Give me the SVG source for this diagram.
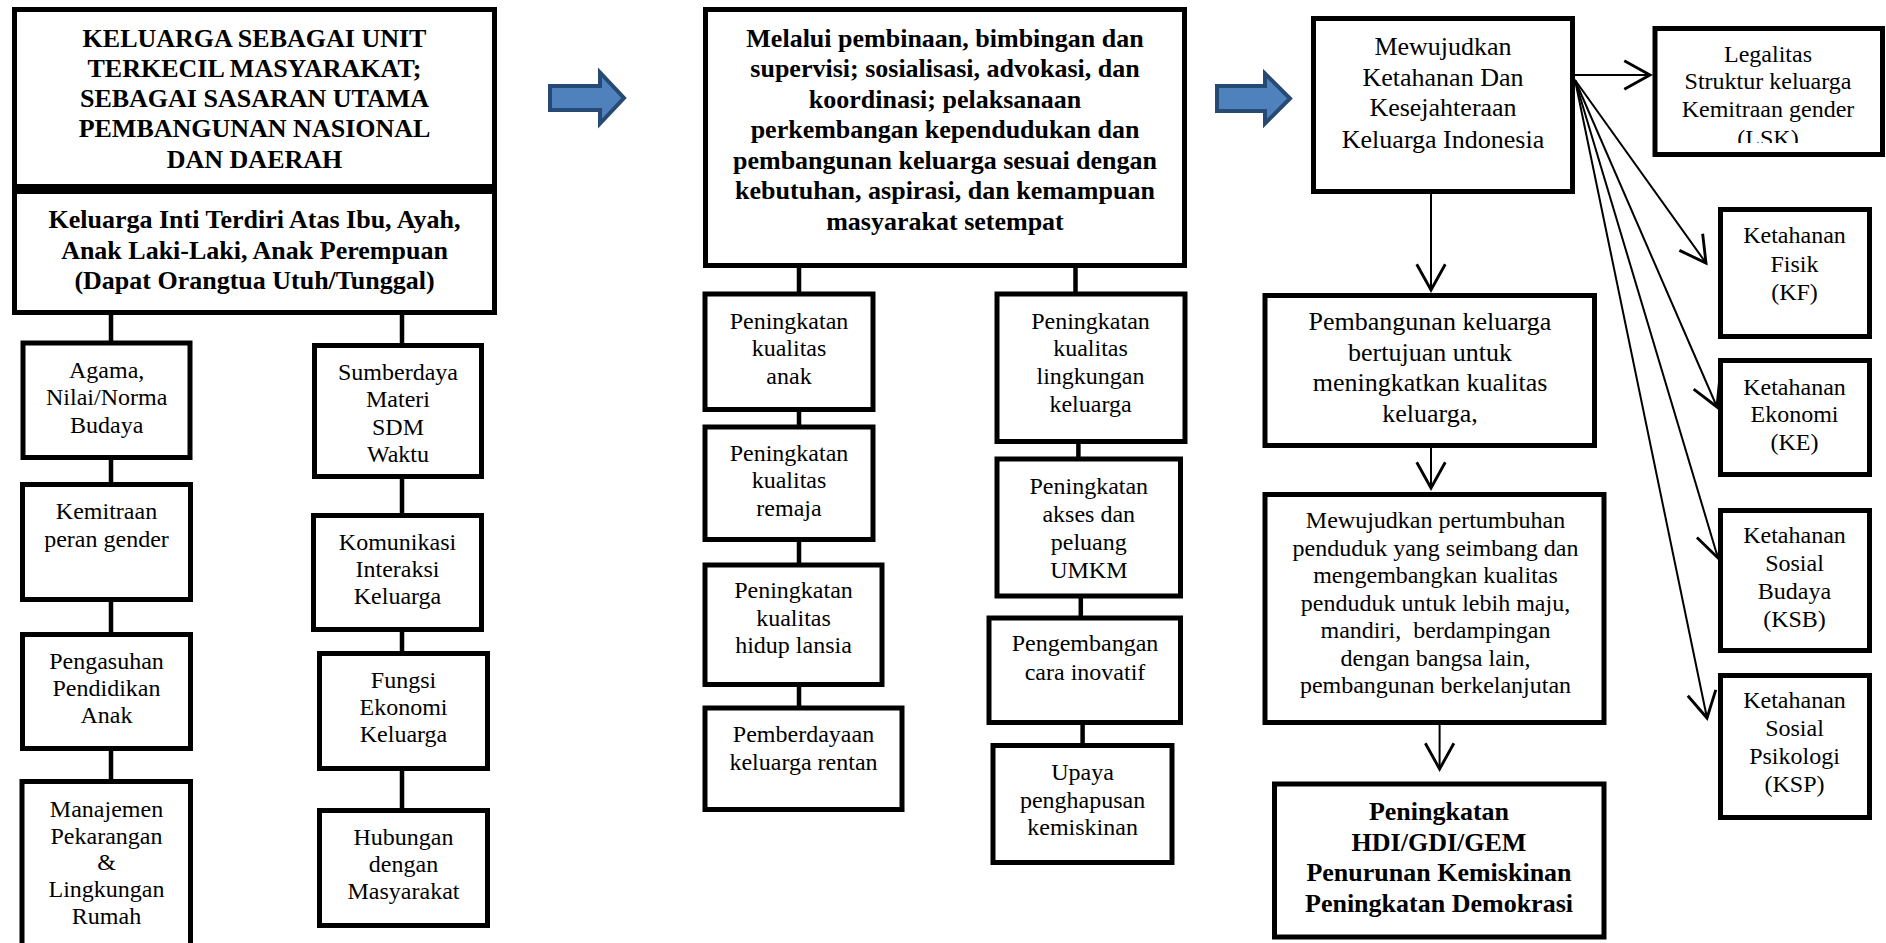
<svg xmlns="http://www.w3.org/2000/svg" width="1886" height="943" viewBox="0 0 1886 943">
<style>
  .box { fill: #ffffff; stroke: #000000; stroke-width: 5; }
  .conn { stroke: #000000; stroke-width: 4.5; fill: none; }
  .arr { stroke: #000000; stroke-width: 2; fill: none; marker-end: url(#vhead); }
  .big { fill: #4F81BD; stroke: #264A73; stroke-width: 4; stroke-linejoin: miter; }
  text { font-family: "Liberation Serif", "Times New Roman", serif; fill: #000000; text-anchor: middle; }
  .b { font-weight: bold; font-size: 26px; }
  .r { font-size: 24px; }
  .r26 { font-size: 26px; }
</style>
<defs>
  <marker id="vhead" markerUnits="userSpaceOnUse" markerWidth="40" markerHeight="40" refX="0" refY="0" viewBox="-22 -14 26 28" orient="auto" overflow="visible">
    <path d="M-18,-10 L0,0 L-18,10" fill="none" stroke="#000000" stroke-width="2"/>
  </marker>
  <clipPath id="clipLSK"><rect x="1650" y="20" width="236" height="123"/></clipPath>
</defs>

<g id="connectors">
  <line class="conn" x1="111" y1="312" x2="111" y2="782"/>
  <line class="conn" x1="402" y1="312" x2="402" y2="812"/>
  <line class="conn" x1="799" y1="266" x2="799" y2="709"/>
  <line class="conn" x1="1075.5" y1="266" x2="1075.5" y2="295"/>
  <line class="conn" x1="1078.4" y1="442" x2="1078.4" y2="460"/>
  <line class="conn" x1="1080.8" y1="596" x2="1080.8" y2="619"/>
  <line class="conn" x1="1082.6" y1="722" x2="1082.6" y2="747"/>
  <line class="arr" x1="1575" y1="75" x2="1650" y2="75"/>
  <line class="arr" x1="1575" y1="80" x2="1706" y2="263"/>
  <line class="arr" x1="1575" y1="80" x2="1717" y2="407"/>
  <line class="arr" x1="1575" y1="80" x2="1718" y2="558"/>
  <line class="arr" x1="1575" y1="80" x2="1707" y2="718"/>
  <line class="arr" x1="1431" y1="188" x2="1431" y2="290"/>
  <line class="arr" x1="1431" y1="444" x2="1431" y2="488"/>
  <line class="arr" x1="1439.6" y1="725" x2="1439.6" y2="769"/>
</g>

<g id="flow-arrow-1"><polygon class="big" points="550,86 600,86 600,72.5 624,98 600,123.5 600,110 550,110"/></g>
<g id="flow-arrow-2"><polygon class="big" points="1217,86 1265,86 1265,73.5 1290,98.5 1265,123.5 1265,111 1217,111"/></g>

<g id="n-keluarga-unit">
  <rect class="box" x="14.5" y="9.5" width="480" height="177"/>
  <text class="b"><tspan x="254.5" y="46.7">KELUARGA SEBAGAI UNIT</tspan><tspan x="254.5" y="76.5">TERKECIL MASYARAKAT;</tspan><tspan x="254.5" y="106.7">SEBAGAI SASARAN UTAMA</tspan><tspan x="254.5" y="137">PEMBANGUNAN NASIONAL</tspan><tspan x="254.5" y="168">DAN DAERAH</tspan></text>
</g>
<g id="n-keluarga-inti">
  <rect class="box" x="14.5" y="191.5" width="480" height="121"/>
  <text class="b"><tspan x="254.5" y="228">Keluarga Inti Terdiri Atas Ibu, Ayah,</tspan><tspan x="254.5" y="258.5">Anak Laki-Laki, Anak Perempuan</tspan><tspan x="254.5" y="289">(Dapat Orangtua Utuh/Tunggal)</tspan></text>
</g>

<g id="n-agama">
  <rect class="box" x="23" y="343" width="167" height="114.5"/>
  <text class="r"><tspan x="106.7" y="377.6">Agama,</tspan><tspan x="106.7" y="405">Nilai/Norma</tspan><tspan x="106.7" y="433">Budaya</tspan></text>
</g>
<g id="n-kemitraan">
  <rect class="box" x="22.5" y="484.5" width="168" height="115"/>
  <text class="r"><tspan x="106.5" y="518.6">Kemitraan</tspan><tspan x="106.5" y="547">peran gender</tspan></text>
</g>
<g id="n-pengasuhan">
  <rect class="box" x="22.5" y="634.5" width="168" height="114"/>
  <text class="r"><tspan x="106.5" y="669">Pengasuhan</tspan><tspan x="106.5" y="696">Pendidikan</tspan><tspan x="106.5" y="723">Anak</tspan></text>
</g>
<g id="n-manajemen">
  <rect class="box" x="22" y="781.5" width="168.5" height="200"/>
  <text class="r"><tspan x="106.5" y="817">Manajemen</tspan><tspan x="106.5" y="843.5">Pekarangan</tspan><tspan x="106.5" y="870">&amp;</tspan><tspan x="106.5" y="897">Lingkungan</tspan><tspan x="106.5" y="924">Rumah</tspan></text>
</g>

<g id="n-sumberdaya">
  <rect class="box" x="314.5" y="345.5" width="167" height="131"/>
  <text class="r"><tspan x="398" y="380">Sumberdaya</tspan><tspan x="398" y="407">Materi</tspan><tspan x="398" y="435">SDM</tspan><tspan x="398" y="462">Waktu</tspan></text>
</g>
<g id="n-komunikasi">
  <rect class="box" x="313.5" y="515.5" width="168" height="114"/>
  <text class="r"><tspan x="397.5" y="549.6">Komunikasi</tspan><tspan x="397.5" y="576.5">Interaksi</tspan><tspan x="397.5" y="604">Keluarga</tspan></text>
</g>
<g id="n-fungsi">
  <rect class="box" x="319.5" y="653.5" width="168" height="115"/>
  <text class="r"><tspan x="403.5" y="687.5">Fungsi</tspan><tspan x="403.5" y="714.5">Ekonomi</tspan><tspan x="403.5" y="742">Keluarga</tspan></text>
</g>
<g id="n-hubungan">
  <rect class="box" x="319.5" y="810.5" width="168" height="115"/>
  <text class="r"><tspan x="403.5" y="845">Hubungan</tspan><tspan x="403.5" y="872">dengan</tspan><tspan x="403.5" y="899">Masyarakat</tspan></text>
</g>

<g id="n-melalui">
  <rect class="box" x="705.5" y="9.5" width="479" height="256"/>
  <text class="b"><tspan x="945" y="46.7">Melalui pembinaan, bimbingan dan</tspan><tspan x="945" y="77.2">supervisi; sosialisasi, advokasi, dan</tspan><tspan x="945" y="107.7">koordinasi; pelaksanaan</tspan><tspan x="945" y="138.2">perkembangan kependudukan dan</tspan><tspan x="945" y="168.7">pembangunan keluarga sesuai dengan</tspan><tspan x="945" y="199.2">kebutuhan, aspirasi, dan kemampuan</tspan><tspan x="945" y="229.7">masyarakat setempat</tspan></text>
</g>

<g id="n-anak">
  <rect class="box" x="705" y="294" width="168" height="115.5"/>
  <text class="r"><tspan x="789" y="328.6">Peningkatan</tspan><tspan x="789" y="356">kualitas</tspan><tspan x="789" y="383.6">anak</tspan></text>
</g>
<g id="n-remaja">
  <rect class="box" x="705" y="427" width="168" height="112.5"/>
  <text class="r"><tspan x="789" y="460.5">Peningkatan</tspan><tspan x="789" y="488">kualitas</tspan><tspan x="789" y="515.5">remaja</tspan></text>
</g>
<g id="n-lansia">
  <rect class="box" x="705" y="565" width="177" height="119.5"/>
  <text class="r"><tspan x="793.5" y="598">Peningkatan</tspan><tspan x="793.5" y="625.7">kualitas</tspan><tspan x="793.5" y="653.4">hidup lansia</tspan></text>
</g>
<g id="n-pemberdayaan">
  <rect class="box" x="705" y="708" width="197" height="101.5"/>
  <text class="r"><tspan x="803.5" y="741.7">Pemberdayaan</tspan><tspan x="803.5" y="770">keluarga rentan</tspan></text>
</g>

<g id="n-lingkungan">
  <rect class="box" x="997" y="294" width="188" height="147.5"/>
  <text class="r"><tspan x="1090.5" y="328.6">Peningkatan</tspan><tspan x="1090.5" y="356">kualitas</tspan><tspan x="1090.5" y="383.6">lingkungan</tspan><tspan x="1090.5" y="411.5">keluarga</tspan></text>
</g>
<g id="n-umkm">
  <rect class="box" x="997" y="459" width="183.5" height="137"/>
  <text class="r"><tspan x="1088.8" y="493.5">Peningkatan</tspan><tspan x="1088.8" y="521.5">akses dan</tspan><tspan x="1088.8" y="549.5">peluang</tspan><tspan x="1088.8" y="577.5">UMKM</tspan></text>
</g>
<g id="n-pengembangan">
  <rect class="box" x="989" y="618" width="191.5" height="104.5"/>
  <text class="r"><tspan x="1085" y="651">Pengembangan</tspan><tspan x="1085" y="679.5">cara inovatif</tspan></text>
</g>
<g id="n-upaya">
  <rect class="box" x="993" y="745.5" width="179" height="117"/>
  <text class="r"><tspan x="1082.6" y="780">Upaya</tspan><tspan x="1082.6" y="807.5">penghapusan</tspan><tspan x="1082.6" y="835">kemiskinan</tspan></text>
</g>

<g id="n-mewujudkan">
  <rect class="box" x="1313.5" y="18.5" width="259" height="173"/>
  <text class="r26"><tspan x="1443" y="55">Mewujudkan</tspan><tspan x="1443" y="85.5">Ketahanan Dan</tspan><tspan x="1443" y="116">Kesejahteraan</tspan><tspan x="1443" y="147.5">Keluarga Indonesia</tspan></text>
</g>
<g id="n-legalitas">
  <rect class="box" x="1655" y="28.5" width="227.5" height="126"/>
  <text class="r" clip-path="url(#clipLSK)"><tspan x="1768" y="61.7">Legalitas</tspan><tspan x="1768" y="88.5">Struktur keluarga</tspan><tspan x="1768" y="116.5">Kemitraan gender</tspan><tspan x="1768" y="146">(LSK)</tspan></text>
</g>
<g id="n-kf">
  <rect class="box" x="1720.5" y="209.5" width="149" height="127"/>
  <text class="r"><tspan x="1794.5" y="243.3">Ketahanan</tspan><tspan x="1794.5" y="271.7">Fisik</tspan><tspan x="1794.5" y="300">(KF)</tspan></text>
</g>
<g id="n-ke">
  <rect class="box" x="1720.5" y="360.5" width="149" height="114"/>
  <text class="r"><tspan x="1794.5" y="395">Ketahanan</tspan><tspan x="1794.5" y="422">Ekonomi</tspan><tspan x="1794.5" y="450">(KE)</tspan></text>
</g>
<g id="n-ksb">
  <rect class="box" x="1720.5" y="510.5" width="149" height="140"/>
  <text class="r"><tspan x="1794.5" y="543.3">Ketahanan</tspan><tspan x="1794.5" y="571">Sosial</tspan><tspan x="1794.5" y="598.5">Budaya</tspan><tspan x="1794.5" y="627">(KSB)</tspan></text>
</g>
<g id="n-ksp">
  <rect class="box" x="1720.5" y="675.5" width="149" height="142"/>
  <text class="r"><tspan x="1794.5" y="708.3">Ketahanan</tspan><tspan x="1794.5" y="736">Sosial</tspan><tspan x="1794.5" y="763.5">Psikologi</tspan><tspan x="1794.5" y="791.7">(KSP)</tspan></text>
</g>

<g id="n-pembangunan">
  <rect class="box" x="1265" y="295.5" width="329.5" height="150"/>
  <text class="r26"><tspan x="1430" y="330">Pembangunan keluarga</tspan><tspan x="1430" y="360.5">bertujuan untuk</tspan><tspan x="1430" y="391">meningkatkan kualitas</tspan><tspan x="1430" y="421.5">keluarga,</tspan></text>
</g>
<g id="n-pertumbuhan">
  <rect class="box" x="1265" y="494.5" width="339" height="228"/>
  <text class="r"><tspan x="1435.5" y="528.3">Mewujudkan pertumbuhan</tspan><tspan x="1435.5" y="555.8">penduduk yang seimbang dan</tspan><tspan x="1435.5" y="583.3">mengembangkan kualitas</tspan><tspan x="1435.5" y="610.8">penduduk untuk lebih maju,</tspan><tspan x="1435.5" y="638.3">mandiri,&#160; berdampingan</tspan><tspan x="1435.5" y="665.8">dengan bangsa lain,</tspan><tspan x="1435.5" y="693.3">pembangunan berkelanjutan</tspan></text>
</g>
<g id="n-hasil">
  <rect class="box" x="1274.5" y="784" width="329.5" height="153"/>
  <text class="b"><tspan x="1439" y="820">Peningkatan</tspan><tspan x="1439" y="850.5">HDI/GDI/GEM</tspan><tspan x="1439" y="881">Penurunan Kemiskinan</tspan><tspan x="1439" y="912">Peningkatan Demokrasi</tspan></text>
</g>
</svg>
